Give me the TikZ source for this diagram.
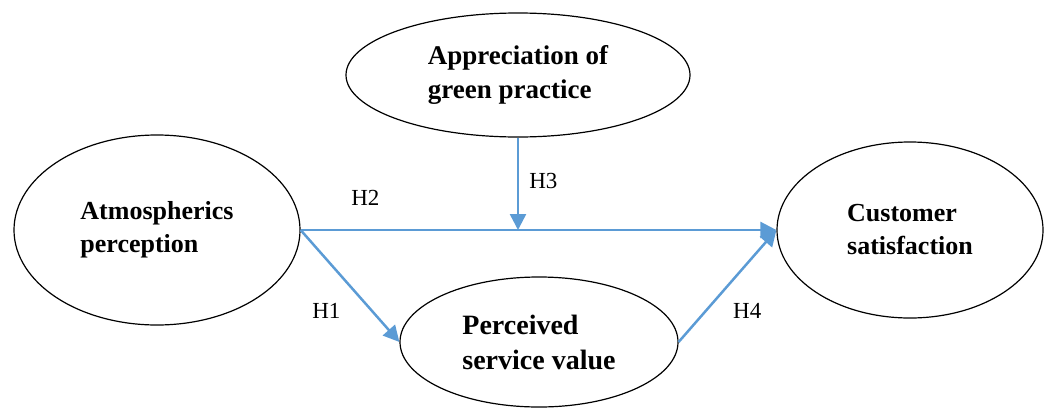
\documentclass[tikz,border=0pt]{standalone}
\usepackage{fontspec}
\setmainfont{Liberation Serif}
\usetikzlibrary{shapes.geometric,arrows.meta}
\definecolor{pathblue}{RGB}{91,155,213}

\begin{document}
\begin{tikzpicture}
 [x=1pt, y=-1pt,
  construct node/.style={ellipse, draw, line width=1.2pt, inner sep=0pt, align=left, font=\fontsize{26}{33}\selectfont\bfseries},
  hyp node/.style={inner sep=0pt, font=\fontsize{23}{26}\selectfont},
  >={Triangle[length=16pt,width=16pt]}]

\useasboundingbox (0,0) rectangle (1051,407);

\node[construct node, minimum width=286pt, minimum height=190pt] (atm) at (157,230) {Atmospherics\\perception};
\node[construct node, minimum width=344pt, minimum height=124pt, font=\fontsize{27}{34}\selectfont\bfseries] (app) at (518,75) {Appreciation of\\green practice};
\node[construct node, minimum width=266pt, minimum height=176pt] (cus) at (910,230) {Customer\\satisfaction};
\node[construct node, minimum width=278pt, minimum height=130pt, font=\fontsize{28}{35}\selectfont\bfseries] (per) at (539,342) {Perceived\\service value};

\coordinate (mod) at (app.south |- atm.east);

\path
  (atm.east) edge [->, pathblue, line width=2.5pt] node [hyp node, pos=0.136, above=23pt, text=black] (h2) {H2} (cus.west)
  (app.south) edge [->, pathblue, line width=2.5pt] node [hyp node, pos=0.47, right=10pt, text=black] (h3) {H3} (mod)
  (atm.east) edge [->, pathblue, line width=2.5pt] node [hyp node, pos=0.72, left=30pt, text=black] (h1) {H1} (per.west)
  (per.east) edge [->, pathblue, line width=2.5pt] node [hyp node, pos=0.28, right=26pt, text=black] (h4) {H4} (cus.west);

\end{tikzpicture}
\end{document}
